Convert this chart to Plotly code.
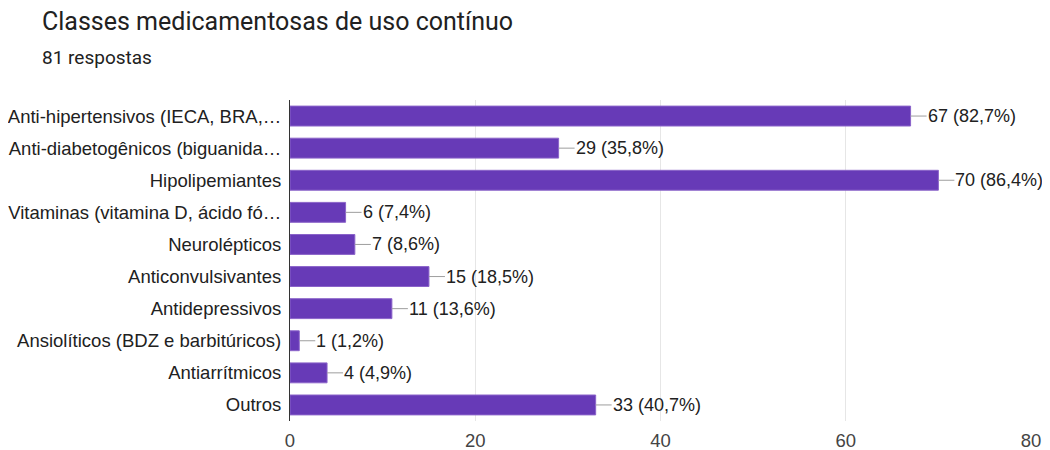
import plotly.graph_objects as go

categories = [
    "Anti-hipertensivos (IECA, BRA,…",
    "Anti-diabetogênicos (biguanida…",
    "Hipolipemiantes",
    "Vitaminas (vitamina D, ácido fó…",
    "Neurolépticos",
    "Anticonvulsivantes",
    "Antidepressivos",
    "Ansiolíticos (BDZ e barbitúricos)",
    "Antiarrítmicos",
    "Outros",
]
counts = [67, 29, 70, 6, 7, 15, 11, 1, 4, 33]
percents = ["82,7%", "35,8%", "86,4%", "7,4%", "8,6%", "18,5%", "13,6%", "1,2%", "4,9%", "40,7%"]
x_ticks = [0, 20, 40, 60, 80]

# the page body has an 8px margin, so the figure is shrunk by that much
OFF = 8
W, H = 1050 - OFF, 450 - OFF
L, R, T, B = 290 - OFF, 19, 100 - OFF, 29
pw, ph = W - L - R, H - T - B
label_font = dict(family="Liberation Sans, Arial", size=18.5, color="#212121")
value_font = dict(family="Liberation Sans, Arial", size=18, color="#212121")

fig = go.Figure()
fig.add_trace(go.Bar(
    x=counts,
    y=categories,
    orientation="h",
    marker=dict(color="#673ab7", line=dict(color="#8a63c9", width=1)),
    hoverinfo="skip",
))

for c, cat, p in zip(counts, categories, percents):
    fig.add_annotation(
        x=c, y=cat, xref="x", yref="y",
        text=f"{c} ({p})",
        showarrow=True, arrowhead=0, arrowwidth=1, arrowcolor="#9e9e9e",
        ax=16, ay=0, xanchor="left", standoff=0, borderpad=0,
        font=value_font,
    )

# title and subtitle
fig.add_annotation(
    text="Classes medicamentosas de uso contínuo", xref="paper", yref="paper",
    x=-(L - (40 - OFF)) / pw, y=1 + (T - (22 - OFF)) / ph, xanchor="left", yanchor="middle",
    showarrow=False,
    font=dict(family="Roboto", size=25, color="#212121"),
)
fig.add_annotation(
    text="81 respostas", xref="paper", yref="paper",
    x=-(L - (40 - OFF)) / pw, y=1 + (T - (57 - OFF)) / ph, xanchor="left", yanchor="middle",
    showarrow=False,
    font=dict(family="Roboto", size=19, color="#212121"),
)

fig.update_layout(
    width=W, height=H,
    paper_bgcolor="white", plot_bgcolor="white",
    margin=dict(l=L, r=R, t=T, b=B),
    bargap=0.38,
    showlegend=False,
    font=label_font,
)

fig.update_xaxes(
    range=[0, 80], tickvals=x_ticks,
    showgrid=True, gridcolor="#e6e6e6", gridwidth=1,
    zeroline=False, showline=False, automargin=False,
    tickfont=dict(size=18.5, color="#444444"),
    ticks="", ticklabelstandoff=6,
)
fig.update_yaxes(
    autorange="reversed", automargin=False,
    showline=True, linecolor="#333333", linewidth=1,
    showgrid=False, ticks="", ticklabelstandoff=4,
    tickfont=label_font,
)

fig.write_html("out.html")
